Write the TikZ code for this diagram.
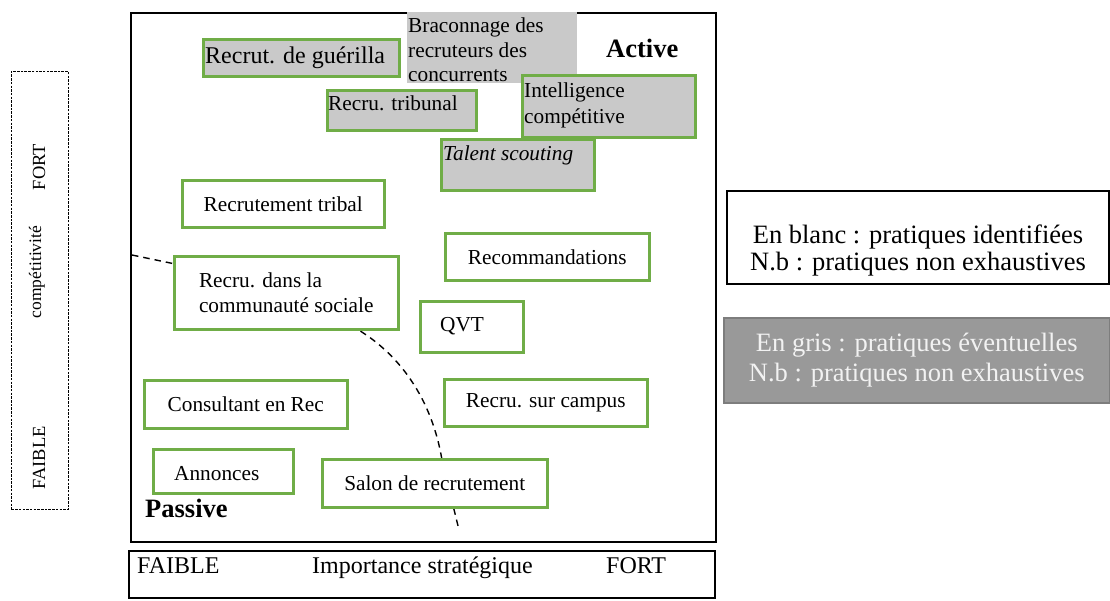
\documentclass[tikz,border=0pt]{standalone}
\usepackage{fontspec}
\setmainfont{Liberation Serif}
\newcommand\fsN{\fontsize{21.3}{25}\selectfont}
\newcommand\fsB{\fontsize{24}{27}\selectfont}
\newcommand\fsL{\fontsize{26.5}{30}\selectfont}
\newcommand\fsLt{\fontsize{26.5}{26.5}\selectfont}
\newcommand\fsR{\fontsize{18.5}{21}\selectfont}
\definecolor{grn}{RGB}{112,173,71}
\definecolor{lgray}{RGB}{201,201,201}
\definecolor{mgray}{RGB}{153,153,153}
\definecolor{dgray}{RGB}{125,125,125}
\definecolor{wtxt}{RGB}{242,242,242}
\begin{document}
\begin{tikzpicture}[x=1pt,y=-1pt,
  frame/.style={draw=black, line width=2pt, inner sep=0pt, anchor=north west},
  gbox/.style={draw=grn, line width=2.5pt, fill=lgray, inner sep=0pt, anchor=north west},
  wbox/.style={draw=grn, line width=2.5pt, fill=white, inner sep=0pt, anchor=north west, font=\fsN},
  txt/.style={inner sep=0pt, anchor=base west, font=\fsN},
  big/.style={inner sep=0pt, anchor=base west, font=\fsL\bfseries},
  side/.style={inner sep=0pt, rotate=90, anchor=center},
  sep/.style={black, line width=1.4pt, dash pattern=on 6.5pt off 5pt}
]
\useasboundingbox (0,0) rectangle (1110,600);

% separator curve (drawn first, hidden under boxes)
\coordinate (s0) at (132,255);
\coordinate (s1) at (180,265);
\coordinate (s2) at (350,325);
\coordinate (s3) at (442,460);
\coordinate (s4) at (459,530);
\draw[sep] (s0) -- (s1) -- (s2) .. controls (400,352) and (432,400) .. (s3) -- (s4);

% main frame
\node[frame, minimum width=585pt, minimum height=529pt] (main) at (130,12) {};

% gray boxes (possible practices)
\node[inner sep=0pt, anchor=north west, fill=lgray, minimum width=170pt, minimum height=71pt] (brac) at (407,12) {};
\node[txt] (brac1) at (408,32) {Braconnage des};
\node[txt] (brac2) at (408,57) {recruteurs des};
\node[txt] (brac3) at (408,81) {concurrents};

\node[gbox, minimum width=196pt, minimum height=37pt] (guer) at (202,38) {};
\node[txt, font=\fsB] (guert) at (205,63) {Recrut. de guérilla};

\node[gbox, minimum width=149pt, minimum height=40pt] (trib) at (326,89) {};
\node[txt] (tribt) at (328,110) {Recru. tribunal};

\node[gbox, minimum width=173pt, minimum height=62pt] (intel) at (521,74) {};
\node[txt] (intel1) at (524,97) {Intelligence};
\node[txt] (intel2) at (524,123) {compétitive};

\node[gbox, minimum width=153pt, minimum height=51pt] (talent) at (440,138) {};
\node[txt, font=\fsN\itshape] (talentt) at (443,160) {Talent scouting};

\node[big] (active) at (606,57) {Active};

% white boxes (identified practices)
\node[wbox, minimum width=202pt, minimum height=47pt] (rtrib) at (181,179) {Recrutement tribal};
\node[wbox, minimum width=204pt, minimum height=47pt] (recom) at (444,232) {Recommandations};
\node[wbox, minimum width=224pt, minimum height=73pt, align=left] (comm) at (173,255) {Recru. dans la\\communauté sociale};
\node[wbox, minimum width=103pt, minimum height=51pt] (qvt) at (419,300) {};
\node[txt] (qvtt) at (440,331) {QVT};
\node[wbox, minimum width=203pt, minimum height=48pt] (cons) at (143,379) {Consultant en Rec};
\node[wbox, minimum width=203pt, minimum height=47pt] (camp) at (443,378) {Recru. sur campus};
\node[wbox, minimum width=140pt, minimum height=44pt] (ann) at (152,448) {};
\node[txt] (annt) at (174,480) {Annonces};
\node[wbox, minimum width=225pt, minimum height=48pt] (salon) at (321,458) {Salon de recrutement};

\node[big] (passive) at (145,517) {Passive};

% bottom axis box
\node[frame, minimum width=586pt, minimum height=47pt] (xaxis) at (128,550) {};
\node[txt, font=\fsB] (xlo) at (137,573) {FAIBLE};
\node[txt, font=\fsB] (xmid) at (312,573) {Importance stratégique};
\node[txt, font=\fsB] (xhi) at (606,573) {FORT};

% left axis box
\node[draw=black, line width=0.9pt, dash pattern=on 2.5pt off 1.2pt, inner sep=0pt, anchor=north west,
      minimum width=57pt, minimum height=438pt] (yaxis) at (11,71) {};
\node[side, font=\fsR] (yhi) at (39,167) {FORT};
\node[side, font=\fontsize{17.5}{19}\selectfont] (ymid) at (37,272) {compétitivité};
\node[side, font=\fsR] (ylo) at (39,458) {FAIBLE};

% legend
\node[frame, fill=white, minimum width=382pt, minimum height=93pt] (leg1) at (726,190) {};
\node[inner sep=0pt, font=\fsLt, align=center, anchor=center] (leg1t) at ([yshift=-13pt]leg1.center)
  {En blanc : pratiques identifiées\\N.b : pratiques non exhaustives};
\node[draw=dgray, line width=1.5pt, fill=mgray, text=wtxt, inner sep=0pt, anchor=north west,
      minimum width=386pt, minimum height=85pt, font=\fsL, align=center] (leg2) at (723,317)
  {En gris : pratiques éventuelles\\N.b : pratiques non exhaustives};
\end{tikzpicture}
\end{document}
